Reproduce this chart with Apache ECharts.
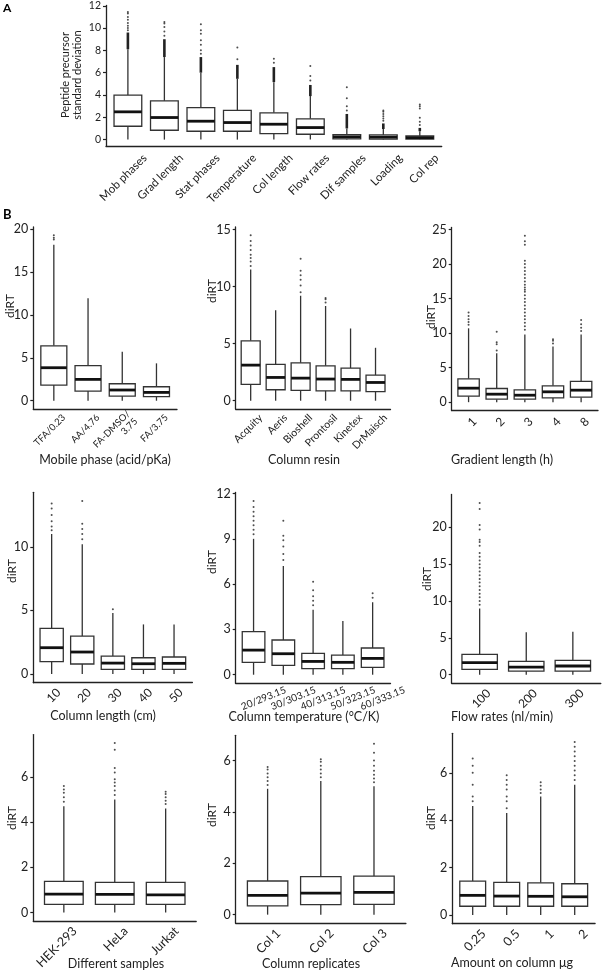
<!DOCTYPE html>
<html>
<head>
<meta charset="utf-8">
<script src="https://cdn.jsdelivr.net/npm/echarts@6/dist/echarts.min.js"></script>
<style>
	html, body { margin: 0; padding: 0; background: #fff; }
	#chart { width: 602px; height: 972px; }
</style>
</head>
<body>
<div id="chart"></div>
<script>
	// box rows are [lower whisker, Q1, median, Q3, upper whisker]; outliers are [category no., value]
	const catsA = ['Mob phases', 'Grad length', 'Stat phases', 'Temperature', 'Col length', 'Flow rates', 'Dif samples', 'Loading', 'Col rep']
	const boxA = [[0, 1.2, 2.49, 3.98, 8.1], [0, 0.84, 1.98, 3.47, 7.4], [0, 0.75, 1.65, 2.87, 6.0], [0, 0.75, 1.53, 2.63, 5.45], [0, 0.54, 1.38, 2.4, 5.15], [0, 0.48, 1.08, 1.86, 3.9], [0, 0.06, 0.25, 0.45, 1.0], [0, 0.05, 0.22, 0.42, 0.95], [0, 0.04, 0.18, 0.33, 0.75]]
	// dense runs of outliers that print as a thick stroke: [category no., from, to]
	const runA = [[1, 8.1, 9.6], [2, 7.4, 9.0], [3, 6.0, 7.4], [4, 5.45, 6.7], [5, 5.15, 6.5], [6, 3.9, 4.9], [7, 1.0, 2.3], [8, 0.95, 1.45], [9, 0.75, 1.05]]
	const outA = [[1, 9.8], [1, 10.0], [1, 10.2], [1, 10.45], [1, 10.75], [1, 11.0], [1, 11.3], [1, 11.45],
		[2, 9.3], [2, 9.7], [2, 10.1], [2, 10.4], [2, 10.55],
		[3, 7.7], [3, 8.0], [3, 8.5], [3, 8.9], [3, 9.5], [3, 9.8], [3, 10.35],
		[4, 7.2], [4, 8.25], [5, 6.9], [5, 7.25], [6, 5.3], [6, 5.7], [6, 6.6],
		[7, 2.6], [7, 3.0], [7, 3.7], [7, 4.7],
		[8, 1.7], [8, 1.9], [8, 2.1], [8, 2.3], [8, 2.5], [8, 2.6],
		[9, 1.3], [9, 1.6], [9, 1.95], [9, 2.8], [9, 3.0], [9, 3.15]]
	const ticksA = [0, 2, 4, 6, 8, 10, 12]

	const catsB1 = ['TFA/0.23', 'AA/4.76', 'FA-DMSO/\n3.75', 'FA/3.75']
	const boxB1 = [[0, 1.83, 3.85, 6.4, 18.2], [0, 1.13, 2.49, 4.09, 11.95], [0, 0.54, 1.25, 1.98, 5.72], [0, 0.47, 0.97, 1.63, 4.36]]
	const outB1 = [[1, 18.8], [1, 19.0], [1, 19.3]]
	const ticksB1 = [0, 5, 10, 15, 20]

	const catsB2 = ['Acquity', 'Aeris', 'Bioshell', 'Prontosil', 'Kinetex', 'DrMaisch']
	const boxB2 = [[0, 1.43, 3.12, 5.25, 11.5], [0, 0.96, 2.04, 3.18, 7.93], [0, 0.9, 1.98, 3.32, 9.2], [0, 0.87, 1.9, 3.06, 8.3], [0, 0.87, 1.87, 2.86, 6.33], [0, 0.79, 1.6, 2.24, 4.64]]
	const outB2 = [[1, 11.8], [1, 12.2], [1, 12.5], [1, 12.8], [1, 13.2], [1, 13.6], [1, 14.0], [1, 14.5],
		[3, 9.5], [3, 10.1], [3, 10.6], [3, 11.0], [3, 11.4], [3, 12.45], [4, 8.6], [4, 8.9], [4, 9.0]]
	const ticksB2 = [0, 5, 10, 15]

	const catsB3 = ['1', '2', '3', '4', '8']
	const boxB3 = [[0, 0.87, 2.03, 3.38, 10.7], [0, 0.43, 1.16, 1.98, 7.1], [0, 0.43, 1.01, 1.79, 9.8], [0, 0.63, 1.5, 2.37, 8.07], [0, 0.72, 1.74, 3.0, 9.8]]
	const outB3 = [[1, 11.2], [1, 11.6], [1, 12.0], [1, 12.5], [1, 13.0],
		[2, 7.5], [2, 8.4], [2, 8.7], [2, 10.2],
		[3, 10.5], [3, 11.0], [3, 11.5], [3, 12.0], [3, 12.5], [3, 13.0], [3, 13.5], [3, 14.0], [3, 14.5], [3, 15.0], [3, 15.5], [3, 16.0], [3, 16.3], [3, 16.6], [3, 17.0], [3, 17.5], [3, 18.0], [3, 18.5], [3, 19.0], [3, 19.5], [3, 20.0], [3, 20.5], [3, 22.8], [3, 23.3], [3, 24.1],
		[4, 8.5], [4, 8.9], [4, 9.1], [5, 10.3], [5, 10.8], [5, 11.3], [5, 11.9]]
	const ticksB3 = [0, 5, 10, 15, 20, 25]

	const catsB4 = ['10', '20', '30', '40', '50']
	const boxB4 = [[0, 0.97, 2.07, 3.59, 11.0], [0, 0.79, 1.73, 2.98, 10.2], [0, 0.37, 0.86, 1.41, 4.8], [0, 0.37, 0.81, 1.28, 3.9], [0, 0.37, 0.84, 1.34, 3.9]]
	const outB4 = [[1, 11.3], [1, 11.6], [1, 12.0], [1, 12.5], [1, 13.0], [1, 13.4],
		[2, 10.6], [2, 11.0], [2, 11.4], [2, 11.8], [2, 13.6], [3, 5.1]]
	const ticksB4 = [0, 5, 10]

	const catsB5 = ['20/293.15', '30/303.15', '40/313.15', '50/323.15', '60/333.15']
	const boxB5 = [[0, 0.82, 1.63, 2.85, 9.0], [0, 0.62, 1.39, 2.3, 7.2], [0, 0.4, 0.88, 1.41, 4.3], [0, 0.4, 0.82, 1.3, 3.55], [0, 0.49, 1.08, 1.77, 4.8]]
	const outB5 = [[1, 9.3], [1, 9.6], [1, 9.9], [1, 10.2], [1, 10.5], [1, 10.8], [1, 11.1], [1, 11.5],
		[2, 7.6], [2, 8.0], [2, 8.5], [2, 8.9], [2, 9.2], [2, 10.2],
		[3, 4.6], [3, 4.9], [3, 5.2], [3, 5.6], [3, 6.15], [5, 5.1], [5, 5.4]]
	const ticksB5 = [0, 3, 6, 9, 12]

	const catsB6 = ['100', '200', '300']
	const boxB6 = [[0, 0.72, 1.63, 2.76, 9.0], [0, 0.5, 1.04, 1.81, 5.75], [0, 0.5, 1.18, 1.95, 5.84]]
	const outB6 = [[1, 9.5], [1, 10.0], [1, 10.5], [1, 11.0], [1, 11.5], [1, 12.0], [1, 12.5], [1, 13.0], [1, 13.5], [1, 14.0], [1, 14.5], [1, 15.0],
		[1, 15.5], [1, 16.0], [1, 16.5], [1, 17.5], [1, 18.0], [1, 18.3], [1, 19.7], [1, 20.3], [1, 22.5], [1, 23.3]]
	const ticksB6 = [0, 5, 10, 15, 20]

	const catsB7 = ['HEK-293', 'HeLa', 'Jurkat']
	const boxB7 = [[0, 0.36, 0.81, 1.38, 4.7], [0, 0.36, 0.8, 1.33, 5.0], [0, 0.36, 0.78, 1.33, 4.6]]
	const outB7 = [[1, 4.9], [1, 5.1], [1, 5.3], [1, 5.45], [1, 5.6],
		[2, 5.2], [2, 5.4], [2, 5.6], [2, 5.75], [2, 5.9], [2, 6.2], [2, 6.4], [2, 7.2], [2, 7.5],
		[3, 4.8], [3, 4.95], [3, 5.1], [3, 5.25], [3, 5.35]]
	const ticksB7 = [0, 2, 4, 6]

	const catsB8 = ['Col 1', 'Col 2', 'Col 3']
	const boxB8 = [[0, 0.34, 0.75, 1.31, 4.9], [0, 0.39, 0.84, 1.48, 5.2], [0, 0.4, 0.87, 1.5, 5.0]]
	const outB8 = [[1, 5.05], [1, 5.2], [1, 5.35], [1, 5.5], [1, 5.65], [1, 5.75],
		[2, 5.35], [2, 5.5], [2, 5.65], [2, 5.8], [2, 5.95], [2, 6.05],
		[3, 5.15], [3, 5.3], [3, 5.45], [3, 5.6], [3, 5.8], [3, 6.0], [3, 6.3], [3, 6.65]]
	const ticksB8 = [0, 2, 4, 6]

	const catsB9 = ['0.25', '0.5', '1', '2']
	const boxB9 = [[0, 0.37, 0.83, 1.43, 4.6], [0, 0.37, 0.8, 1.38, 4.3], [0, 0.37, 0.79, 1.36, 5.0], [0, 0.37, 0.77, 1.32, 5.5]]
	const outB9 = [[1, 4.8], [1, 5.0], [1, 5.5], [1, 6.0], [1, 6.3], [1, 6.6],
		[2, 4.5], [2, 4.8], [2, 5.0], [2, 5.3], [2, 5.5], [2, 5.7], [2, 5.9],
		[3, 5.15], [3, 5.3], [3, 5.45], [3, 5.6],
		[4, 5.7], [4, 5.9], [4, 6.1], [4, 6.3], [4, 6.5], [4, 6.7], [4, 6.9], [4, 7.1], [4, 7.3]]
	const ticksB9 = [0, 2, 4, 6]

	const xTitles = ['Mobile phase (acid/pKa)', 'Column resin', 'Gradient length (h)', 'Column length (cm)', 'Column temperature (°C/K)', 'Flow rates (nl/min)', 'Different samples', 'Column replicates', 'Amount on column μg']

	const FONT = 'Lato'
	const INK = '#222'

	// panel placement in pixels (left/right = axis ends, top/bottom = plot area)
	const panels = [
		{cats: catsA, box: boxA, out: outA, run: runA, ticks: ticksA, l: 106, r: 441.7, t: 5.5, b: 146, lab: 11.5, tk: 10.5, rot: 45, sh: 17, mg: 10},
		{cats: catsB1, box: boxB1, out: outB1, ticks: ticksB1, l: 33.3, r: 177, t: 227, b: 409, lab: 9.5, tk: 12.5, rot: 45, sh: 10, mg: 7},
		{cats: catsB2, box: boxB2, out: outB2, ticks: ticksB2, l: 235.7, r: 390.5, t: 227, b: 409, lab: 10.5, tk: 12.5, rot: 45, sh: 10, mg: 7},
		{cats: catsB3, box: boxB3, out: outB3, ticks: ticksB3, l: 451.7, r: 598, t: 227.5, b: 410.5, lab: 12, tk: 12.5, rot: 45, sh: 6, mg: 9},
		{cats: catsB4, box: boxB4, out: outB4, ticks: ticksB4, l: 33.3, r: 192.4, t: 492.3, b: 682.7, lab: 12, tk: 12.5, rot: 45, sh: 7, mg: 8},
		{cats: catsB5, box: boxB5, out: outB5, ticks: ticksB5, l: 235.7, r: 390.5, t: 492.4, b: 683.4, lab: 10, tk: 12.5, rot: 22, sh: 10, mg: 15, center: true},
		{cats: catsB6, box: boxB6, out: outB6, ticks: ticksB6, l: 451.7, r: 600.8, t: 494.4, b: 683.3, lab: 12, tk: 12.5, rot: 45, sh: 9, mg: 8},
		{cats: catsB7, box: boxB7, out: outB7, ticks: ticksB7, l: 33.3, r: 196.2, t: 734.6, b: 924.3, lab: 12.5, tk: 12.5, rot: 45, sh: 11, mg: 8},
		{cats: catsB8, box: boxB8, out: outB8, ticks: ticksB8, l: 235.7, r: 405.9, t: 735.3, b: 923.2, lab: 12.5, tk: 12.5, rot: 45, sh: 11, mg: 8},
		{cats: catsB9, box: boxB9, out: outB9, ticks: ticksB9, l: 452.3, r: 595.1, t: 733.3, b: 923.7, lab: 12.5, tk: 12.5, rot: 45, sh: 11, mg: 8}
	]
	// axis title spots: [x, y] centres
	const xTitlePos = [[105, 460], [304, 460], [502, 460], [103, 716], [304, 717], [502, 717], [116, 964], [311, 964], [512, 963]]
	const yTitlePos = [[10, 306], [212, 291], [431, 317], [12, 571], [212, 562], [427, 579], [12, 818], [212, 815], [431, 818]]

	function renderBox(params, api) {
		const x = api.value(0)
		const half = api.size([0.76, 0])[0] / 2
		const lo = api.coord([x, api.value(1)])
		const q1 = api.coord([x, api.value(2)])
		const md = api.coord([x, api.value(3)])
		const q3 = api.coord([x, api.value(4)])
		const hi = api.coord([x, api.value(5)])
		const st = {stroke: '#333', lineWidth: 1.3}
		return {
			type: 'group',
			children: [
				{type: 'line', shape: {x1: lo[0], y1: lo[1], x2: q1[0], y2: q1[1]}, style: st},
				{type: 'line', shape: {x1: q3[0], y1: q3[1], x2: hi[0], y2: hi[1]}, style: st},
				{type: 'rect', shape: {x: q1[0] - half, y: q3[1], width: half * 2, height: q1[1] - q3[1]}, style: {fill: '#fff', stroke: '#333', lineWidth: 1.3}},
				{type: 'line', shape: {x1: md[0] - half, y1: md[1], x2: md[0] + half, y2: md[1]}, style: {stroke: '#111', lineWidth: 2.8}}
			]
		}
	}

	function renderRun(params, api) {
		const a = api.coord([api.value(0), api.value(1)])
		const b = api.coord([api.value(0), api.value(2)])
		return {type: 'line', shape: {x1: a[0], y1: a[1], x2: b[0], y2: b[1]}, style: {stroke: '#222', lineWidth: 2.6}}
	}

	const grid = [], xAxis = [], yAxis = [], series = []
	panels.forEach((p, i) => {
		const n = p.cats.length
		const step = (p.r - p.l) / (n + 0.2)
		const off = p.sh / step
		const dmax = Math.max(...p.box.map(d => d[4]), ...p.out.map(d => d[1]))
		const lab = {
			customValues: p.cats.map((c, j) => j + 1 + off),
			formatter: v => p.cats[Math.round(v - off) - 1],
			rotate: p.rot, margin: p.mg, fontSize: p.lab, fontFamily: FONT, color: INK, lineHeight: p.lab + 1
		}
		if (p.center) {
			lab.align = 'center'
			lab.verticalAlign = 'middle'
		}
		grid.push({left: p.l, top: p.t, width: p.r - p.l, height: p.b - p.t})
		xAxis.push({
			gridIndex: i, type: 'value', min: 0.4, max: n + 0.6,
			axisLine: {onZero: false, lineStyle: {color: INK, width: 1.3}},
			axisTick: {show: false},
			splitLine: {show: false},
			axisLabel: lab
		})
		yAxis.push({
			gridIndex: i, type: 'value', min: -0.05 * dmax, max: 1.05 * dmax,
			axisLine: {show: true, onZero: false, lineStyle: {color: INK, width: 1.3}},
			axisTick: {show: true, length: 3, customValues: p.ticks, lineStyle: {color: INK, width: 1.2}},
			splitLine: {show: false},
			axisLabel: {customValues: p.ticks, margin: 5, fontSize: p.tk, fontFamily: FONT, color: INK}
		})
		series.push({
			type: 'custom', xAxisIndex: i, yAxisIndex: i, silent: true, clip: false,
			renderItem: renderBox,
			encode: {x: 0, y: [1, 2, 3, 4, 5]},
			data: p.box.map((d, j) => [j + 1].concat(d))
		})
		if (p.run) {
			series.push({
				type: 'custom', xAxisIndex: i, yAxisIndex: i, silent: true,
				renderItem: renderRun, encode: {x: 0, y: [1, 2]}, data: p.run, z: 1
			})
		}
		series.push({
			type: 'scatter', xAxisIndex: i, yAxisIndex: i, silent: true,
			symbolSize: 2, itemStyle: {color: '#222'}, data: p.out
		})
	})

	const graphic = [
		{type: 'text', x: 3, y: 2, style: {text: 'A', font: 'bold 12px ' + FONT, fill: '#000'}},
		{type: 'text', x: 3, y: 208, style: {text: 'B', font: 'bold 13px ' + FONT, fill: '#000'}},
		{type: 'text', x: 71, y: 75, rotation: Math.PI / 2,
			style: {text: 'Peptide precursor\nstandard deviation', font: '11px ' + FONT, fill: INK, align: 'center', verticalAlign: 'middle', lineHeight: 12}}
	]
	xTitles.forEach((t, i) => {
		graphic.push({type: 'text', x: xTitlePos[i][0], y: xTitlePos[i][1],
			style: {text: t, font: '12.5px ' + FONT, fill: INK, align: 'center', verticalAlign: 'middle'}})
		graphic.push({type: 'text', x: yTitlePos[i][0], y: yTitlePos[i][1], rotation: Math.PI / 2,
			style: {text: 'diRT', font: '12px ' + FONT, fill: INK, align: 'center', verticalAlign: 'middle'}})
	})

	const chart = echarts.init(document.getElementById('chart'))
	chart.setOption({
		animation: false,
		backgroundColor: '#fff',
		grid: grid,
		xAxis: xAxis,
		yAxis: yAxis,
		series: series,
		graphic: graphic
	})
</script>
</body>
</html>
